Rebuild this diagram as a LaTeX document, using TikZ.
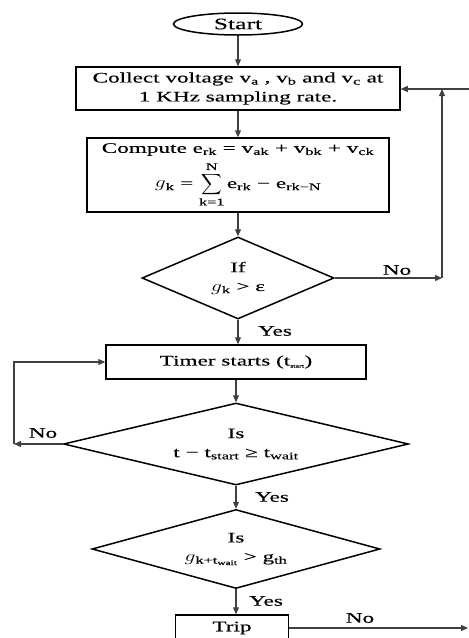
\documentclass[tikz,border=0pt]{standalone}
\usepackage{amsmath}
\usepackage{fontspec}
\setmainfont[FakeStretch=1.6,FakeBold=0.25]{Liberation Serif}
\usetikzlibrary{shapes.geometric,arrows.meta}

\newcommand{\gsym}{\scalebox{1.5}[1.1]{$g$}}

\tikzset{
  procbox/.style={draw=black, line width=1.5pt, rectangle, inner sep=0pt, align=center},
  decbox/.style={draw=black, line width=1.5pt, diamond, inner sep=0pt, align=center},
  flow/.style={draw=black!75, line width=1.1pt, -{Triangle[length=7pt,width=6pt]}},
  lbl/.style={inner sep=0pt},
}

\begin{document}
\begin{tikzpicture}[x=1pt, y=-1pt, font=\fontsize{14.5}{19}\selectfont]
\useasboundingbox (0,0) rectangle (469,638);
% boxes
\node[draw=black, line width=1.5pt, ellipse, inner sep=0pt, minimum width=129pt, minimum height=22pt, font=\fontsize{16}{19}\selectfont] (start) at (238,24) {Start};
\node[procbox, minimum width=324pt, minimum height=43pt] (collect) at (238,88.5) {Collect voltage v\textsubscript{a} , v\textsubscript{b} and v\textsubscript{c} at\\1 KHz sampling rate.};
\node[procbox, minimum width=302pt, minimum height=74pt] (compute) at (238,175) {Compute e\textsubscript{rk} = v\textsubscript{ak} + v\textsubscript{bk} + v\textsubscript{ck}\\[5pt]\gsym\textsubscript{k} = $\displaystyle\sum_{\text{k=1}}^{\text{N}}$\,e\textsubscript{rk} − e\textsubscript{rk−N}};
\node[decbox, aspect=2.34, minimum width=192pt, minimum height=82pt] (d1) at (238,278) {If\\\gsym\textsubscript{k} > ε};
\node[procbox, minimum width=260pt, minimum height=34pt] (timer) at (236,362) {Timer starts (t\textsubscript{\fontsize{5}{5}\selectfont start})};
\node[decbox, aspect=4.2, minimum width=345pt, minimum height=82pt] (d2) at (236,444) {Is\\t − t\textsubscript{start} ≥ t\textsubscript{wait}};
\node[decbox, aspect=3.65, minimum width=288pt, minimum height=79pt] (d3) at (236,549) {Is\\\gsym\textsubscript{k+t\textsubscript{wait}} > g\textsubscript{th}};
\node[procbox, minimum width=113pt, minimum height=26pt] (trip) at (232,628) {Trip};
% free ends
\coordinate (loopin) at (469,89);
\coordinate (nocorner) at (442,278);
\coordinate (waitcorner) at (14,444);
\coordinate (tripout) at (468,628);
% connectors
\draw[flow] (start) -- (collect);
\draw[flow] (collect) -- (compute);
\draw[flow] (compute) -- (d1);
\draw[flow] (d1.south) -- (d1.south |- timer.north);
\draw[flow] (timer) -- (d2);
\draw[flow] (d2) -- (d3);
\draw[flow] (d3.south) -- (d3.south |- trip.north);
\draw[flow] (loopin) -- (collect.east |- loopin);
\draw[flow] (d1.east) -- (nocorner);
\draw[flow] (nocorner) -- (nocorner |- loopin);
\draw[flow] (d2.west) -- (waitcorner);
\draw[flow] (waitcorner) |- (timer.west);
\draw[flow] (trip.east) -- (tripout);
% labels
\node[lbl] (no1) at (397,270) {No};
\node[lbl] (yes1) at (275,331) {Yes};
\node[lbl] (no2) at (43,433) {No};
\node[lbl] (yes2) at (272,497) {Yes};
\node[lbl] (yes3) at (266,601) {Yes};
\node[lbl] (no3) at (360,618) {No};
\end{tikzpicture}
\end{document}
